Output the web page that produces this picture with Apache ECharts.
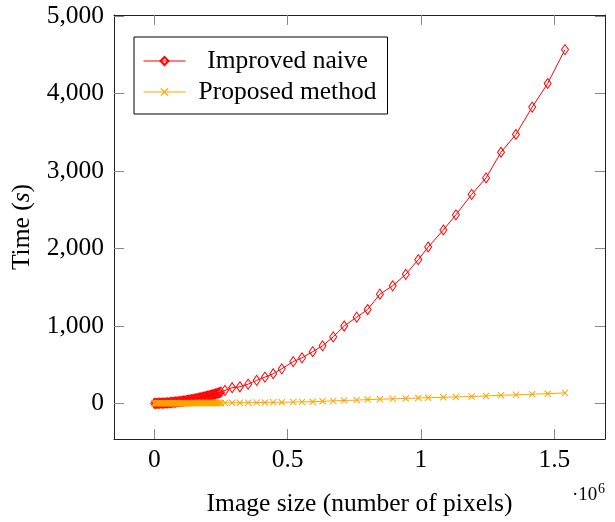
<!DOCTYPE html>
<html>
<head>
<meta charset="utf-8">
<script src="https://cdn.jsdelivr.net/npm/echarts@6/dist/echarts.min.js"></script>
<style>html,body{margin:0;padding:0;background:#fff}#c{width:615px;height:522px}</style>
</head>
<body>
<div id="c"></div>
<script>
// Dense part (0 .. 0.25e6 pixels)
const xDense = [0,5000,10000,15000,20000,25000,30000,35000,40000,45000,50000,55000,60000,65000,70000,75000,80000,85000,90000,95000,100000,105000,110000,115000,120000,125000,130000,135000,140000,145000,150000,155000,160000,165000,170000,175000,180000,185000,190000,195000,200000,205000,210000,215000,220000,225000,230000,235000,240000,245000,250000];
const naiveDense = [0,0,1,1,2,2,3,4,5,6,7,8,10,12,13,15,17,19,21,23,25,28,30,33,36,39,42,45,48,51,54,58,61,65,69,73,77,81,85,89,94,98,103,108,113,118,123,128,134,139,145];
const proposedDense = [0,0,0,0,1,1,1,1,1,1,1,1,1,2,2,2,2,2,2,2,2,3,3,3,3,3,3,3,3,3,4,4,4,4,4,4,4,4,5,5,5,5,5,5,5,5,5,6,6,6,6];
// Sparse part
const xSparse = [265000,292000,321000,352000,384000,415000,446000,478000,521000,554000,594000,631000,671000,712000,759000,800000,846000,894000,943000,990000,1027000,1084000,1131000,1190000,1244000,1300000,1356000,1417000,1475000,1540000];
const naiveSparse = [167,202,214,248,297,339,382,446,539,588,667,743,858,998,1113,1211,1410,1517,1665,1856,2018,2238,2434,2697,2910,3241,3471,3824,4129,4567];
const proposedSparse = [6,7,8,9,10,12,13,14,16,19,21,27,32,37,42,49,54,58,63,69,73,78,83,89,95,104,110,118,125,135];
// Axis ticks
const xTicks = [0,500000,1000000,1500000];
const yTicks = [0,1000,2000,3000,4000,5000];
const seriesNames = ['Improved naive','Proposed method'];

const xs = xDense.concat(xSparse);
const naive = naiveDense.concat(naiveSparse);
const proposed = proposedDense.concat(proposedSparse);
const naiveData = xs.map((x,i)=>[x,naive[i]]);
const propData = xs.map((x,i)=>[x,proposed[i]]);

const FONT = '"Liberation Serif", "Times New Roman", serif';
const FS = 25.5;
const XMIN = -151100, XMAX = 1690000, YMIN = -460, YMAX = 5013;
const tickLine = {color:'#888',width:1};
const axisLineStyle = {lineStyle:{color:'#222',width:1}};
const crossPath = 'path://M0,1L1,0L5,4L9,0L10,1L6,5L10,9L9,10L5,6L1,10L0,9L4,5Z';

const chart = echarts.init(document.getElementById('c'), null, {renderer:'canvas'});
chart.setOption({
  animation:false,
  backgroundColor:'#fff',
  grid:{left:114, top:15, width:491, height:429, containLabel:false},
  xAxis:[
    {type:'value', position:'bottom', min:XMIN, max:XMAX,
     axisLine:Object.assign({show:true,onZero:false},axisLineStyle),
     axisTick:{show:true, inside:true, length:10, customValues:xTicks, lineStyle:tickLine},
     axisLabel:{show:true, customValues:xTicks, margin:8, color:'#000', fontFamily:FONT, fontSize:FS,
       formatter:v=>String(v/1e6)},
     splitLine:{show:false},
     name:'Image size (number of pixels)', nameLocation:'middle', nameGap:52,
     nameTextStyle:{color:'#000', fontFamily:FONT, fontSize:FS}},
    {type:'value', position:'top', min:XMIN, max:XMAX,
     axisLine:Object.assign({show:true,onZero:false},axisLineStyle),
     axisTick:{show:true, inside:true, length:10, customValues:xTicks, lineStyle:tickLine},
     axisLabel:{show:false}, splitLine:{show:false}}
  ],
  yAxis:[
    {type:'value', position:'left', min:YMIN, max:YMAX,
     axisLine:Object.assign({show:true,onZero:false},axisLineStyle),
     axisTick:{show:true, inside:true, length:10, customValues:yTicks, lineStyle:tickLine},
     axisLabel:{show:true, customValues:yTicks, margin:10, color:'#000', fontFamily:FONT, fontSize:FS,
       formatter:v=>v.toLocaleString('en-US')},
     splitLine:{show:false},
     name:'Time ({i|s})', nameLocation:'middle', nameGap:73, nameRotate:90,
     nameTextStyle:{color:'#000', fontFamily:FONT, fontSize:FS,
       rich:{i:{fontStyle:'italic', fontFamily:FONT, fontSize:FS, color:'#000'}}}},
    {type:'value', position:'right', min:YMIN, max:YMAX,
     axisLine:Object.assign({show:true,onZero:false},axisLineStyle),
     axisTick:{show:true, inside:true, length:10, customValues:yTicks, lineStyle:tickLine},
     axisLabel:{show:false}, splitLine:{show:false}}
  ],
  legend:{
    orient:'vertical', left:134, top:37,
    padding:[11,3,9,9],
    backgroundColor:'#fff', borderColor:'#000', borderWidth:1, borderRadius:0,
    itemWidth:42, itemHeight:10, itemGap:5,
    lineStyle:{width:1},
    data:seriesNames,
    formatter:n=>'{c|'+n+'}',
    textStyle:{color:'#000', fontFamily:FONT, fontSize:FS,
      rich:{c:{width:194, align:'center', fontFamily:FONT, fontSize:FS, lineHeight:25, color:'#000'}}}
  },
  series:[
    {name:seriesNames[0], type:'line', xAxisIndex:0, yAxisIndex:0, data:naiveData,
     symbol:'diamond', symbolSize:[7,10], showSymbol:true,
     itemStyle:{color:'rgba(255,255,255,0)', borderColor:'#ff0000', borderWidth:1},
     lineStyle:{color:'#ff0000', width:1}, emphasis:{disabled:true}},
    {name:seriesNames[1], type:'line', xAxisIndex:0, yAxisIndex:0, data:propData,
     symbol:crossPath, symbolSize:7, showSymbol:true,
     itemStyle:{color:'#ffa500', borderWidth:0},
     lineStyle:{color:'#ffa500', width:1}, emphasis:{disabled:true}}
  ],
  graphic:[
    {type:'text', left:572, top:486, style:{text:'·10', fontFamily:FONT, fontSize:19, fill:'#000'}},
    {type:'text', left:598, top:482, style:{text:'6', fontFamily:FONT, fontSize:14, fill:'#000'}}
  ]
});
</script>
</body>
</html>
